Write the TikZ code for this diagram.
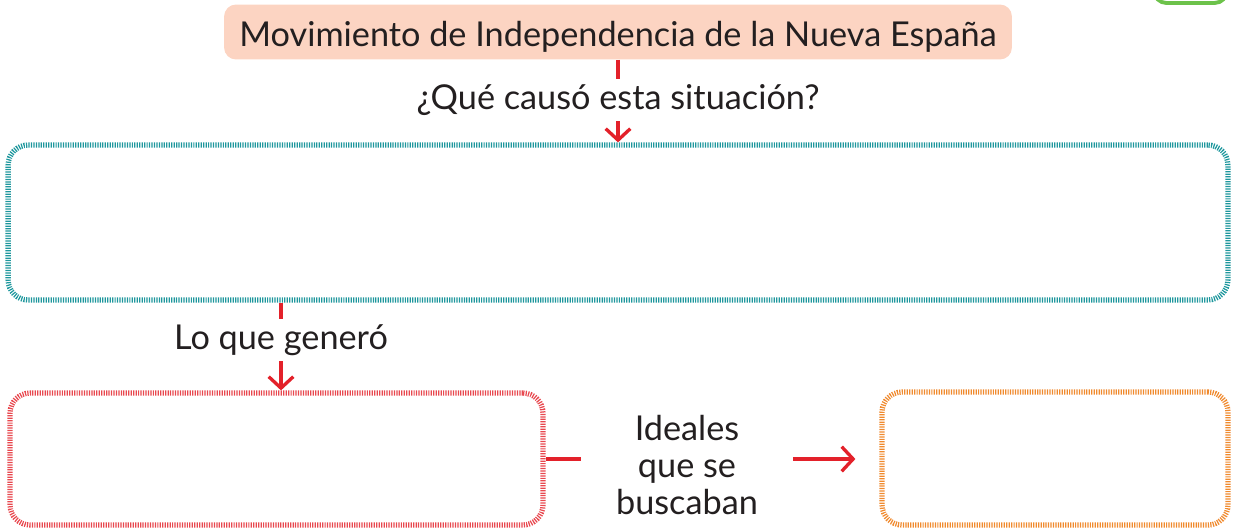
\documentclass[tikz,border=0pt]{standalone}
\usepackage{fontspec}
\setmainfont{Lato}
\usepackage{tikz}
\usetikzlibrary{arrows.meta,positioning,calc}
\definecolor{MapPeach}{HTML}{FCD4C2}
\definecolor{MapTeal}{HTML}{1E979D}
\definecolor{MapRed}{HTML}{E8484F}
\definecolor{MapOrange}{HTML}{F08A2E}
\definecolor{MapGreen}{HTML}{6CC24A}
\definecolor{MapArrow}{HTML}{E3212A}
\definecolor{MapText}{HTML}{231F20}

\begin{document}
\begin{tikzpicture}[
  x=0.02cm,y=-0.02cm,
  every node/.style={text=MapText,font=\fontsize{19.5}{21}\selectfont},
  titlebox/.style={fill=MapPeach,rounded corners=0.24cm,minimum width=15.76cm,minimum height=1.1cm,inner sep=0pt,text height=17pt,text depth=0pt},
  etiqueta/.style={align=center,inner xsep=0pt,inner ysep=3pt},
  caja/.style={line width=3pt,dash pattern=on 0.7pt off 0.7pt,rounded corners=0.4cm,inner sep=0pt},
  linea/.style={draw=MapArrow,line width=1.9pt},
  flecha/.style={linea,-{Straight Barb[length=6.5pt,width=14pt,line width=1.9pt]}},
]
\useasboundingbox (0,0) rectangle (1233,528);
\begin{scope}
  \clip (0,0) rectangle (1233,528);
  \draw[MapGreen,line width=2.2pt,rounded corners=0.25cm] (1154,-30) rectangle (1227,3);
\end{scope}

\node[titlebox] (titulo) at (618,32) {Movimiento de Independencia de la Nueva España};
\node[etiqueta] (causa) at (618,100) {¿Qué causó esta situación?};
\node[caja,draw=MapTeal,minimum width=24.4cm,minimum height=3.1cm] (causas) at (618,222.5) {};
\node[etiqueta] (genero) at (281,340) {Lo que generó};
\node[caja,draw=MapRed,minimum width=10.66cm,minimum height=2.64cm] (consecuencias) at (276.5,459) {};
\node[etiqueta,minimum width=4.22cm,text depth=0pt] (ideales) at (687,465) {Ideales\\que se\\buscaban};
\node[caja,draw=MapOrange,minimum width=6.92cm,minimum height=2.66cm] (metas) at (1055,458.5) {};

\draw[linea] (titulo.south) -- (causa.north);
\draw[flecha] (causa.south) -- (causas.north);
\draw[linea] (genero.north |- causas.south) -- (genero.north);
\draw[flecha] (genero.south) -- (genero.south |- consecuencias.north);
\draw[linea] (consecuencias.east) -- (consecuencias.east -| ideales.west);
\draw[flecha,shorten >=0.48cm] (ideales.east |- consecuencias.east) -- (metas.west |- consecuencias.east);
\end{tikzpicture}
\end{document}
